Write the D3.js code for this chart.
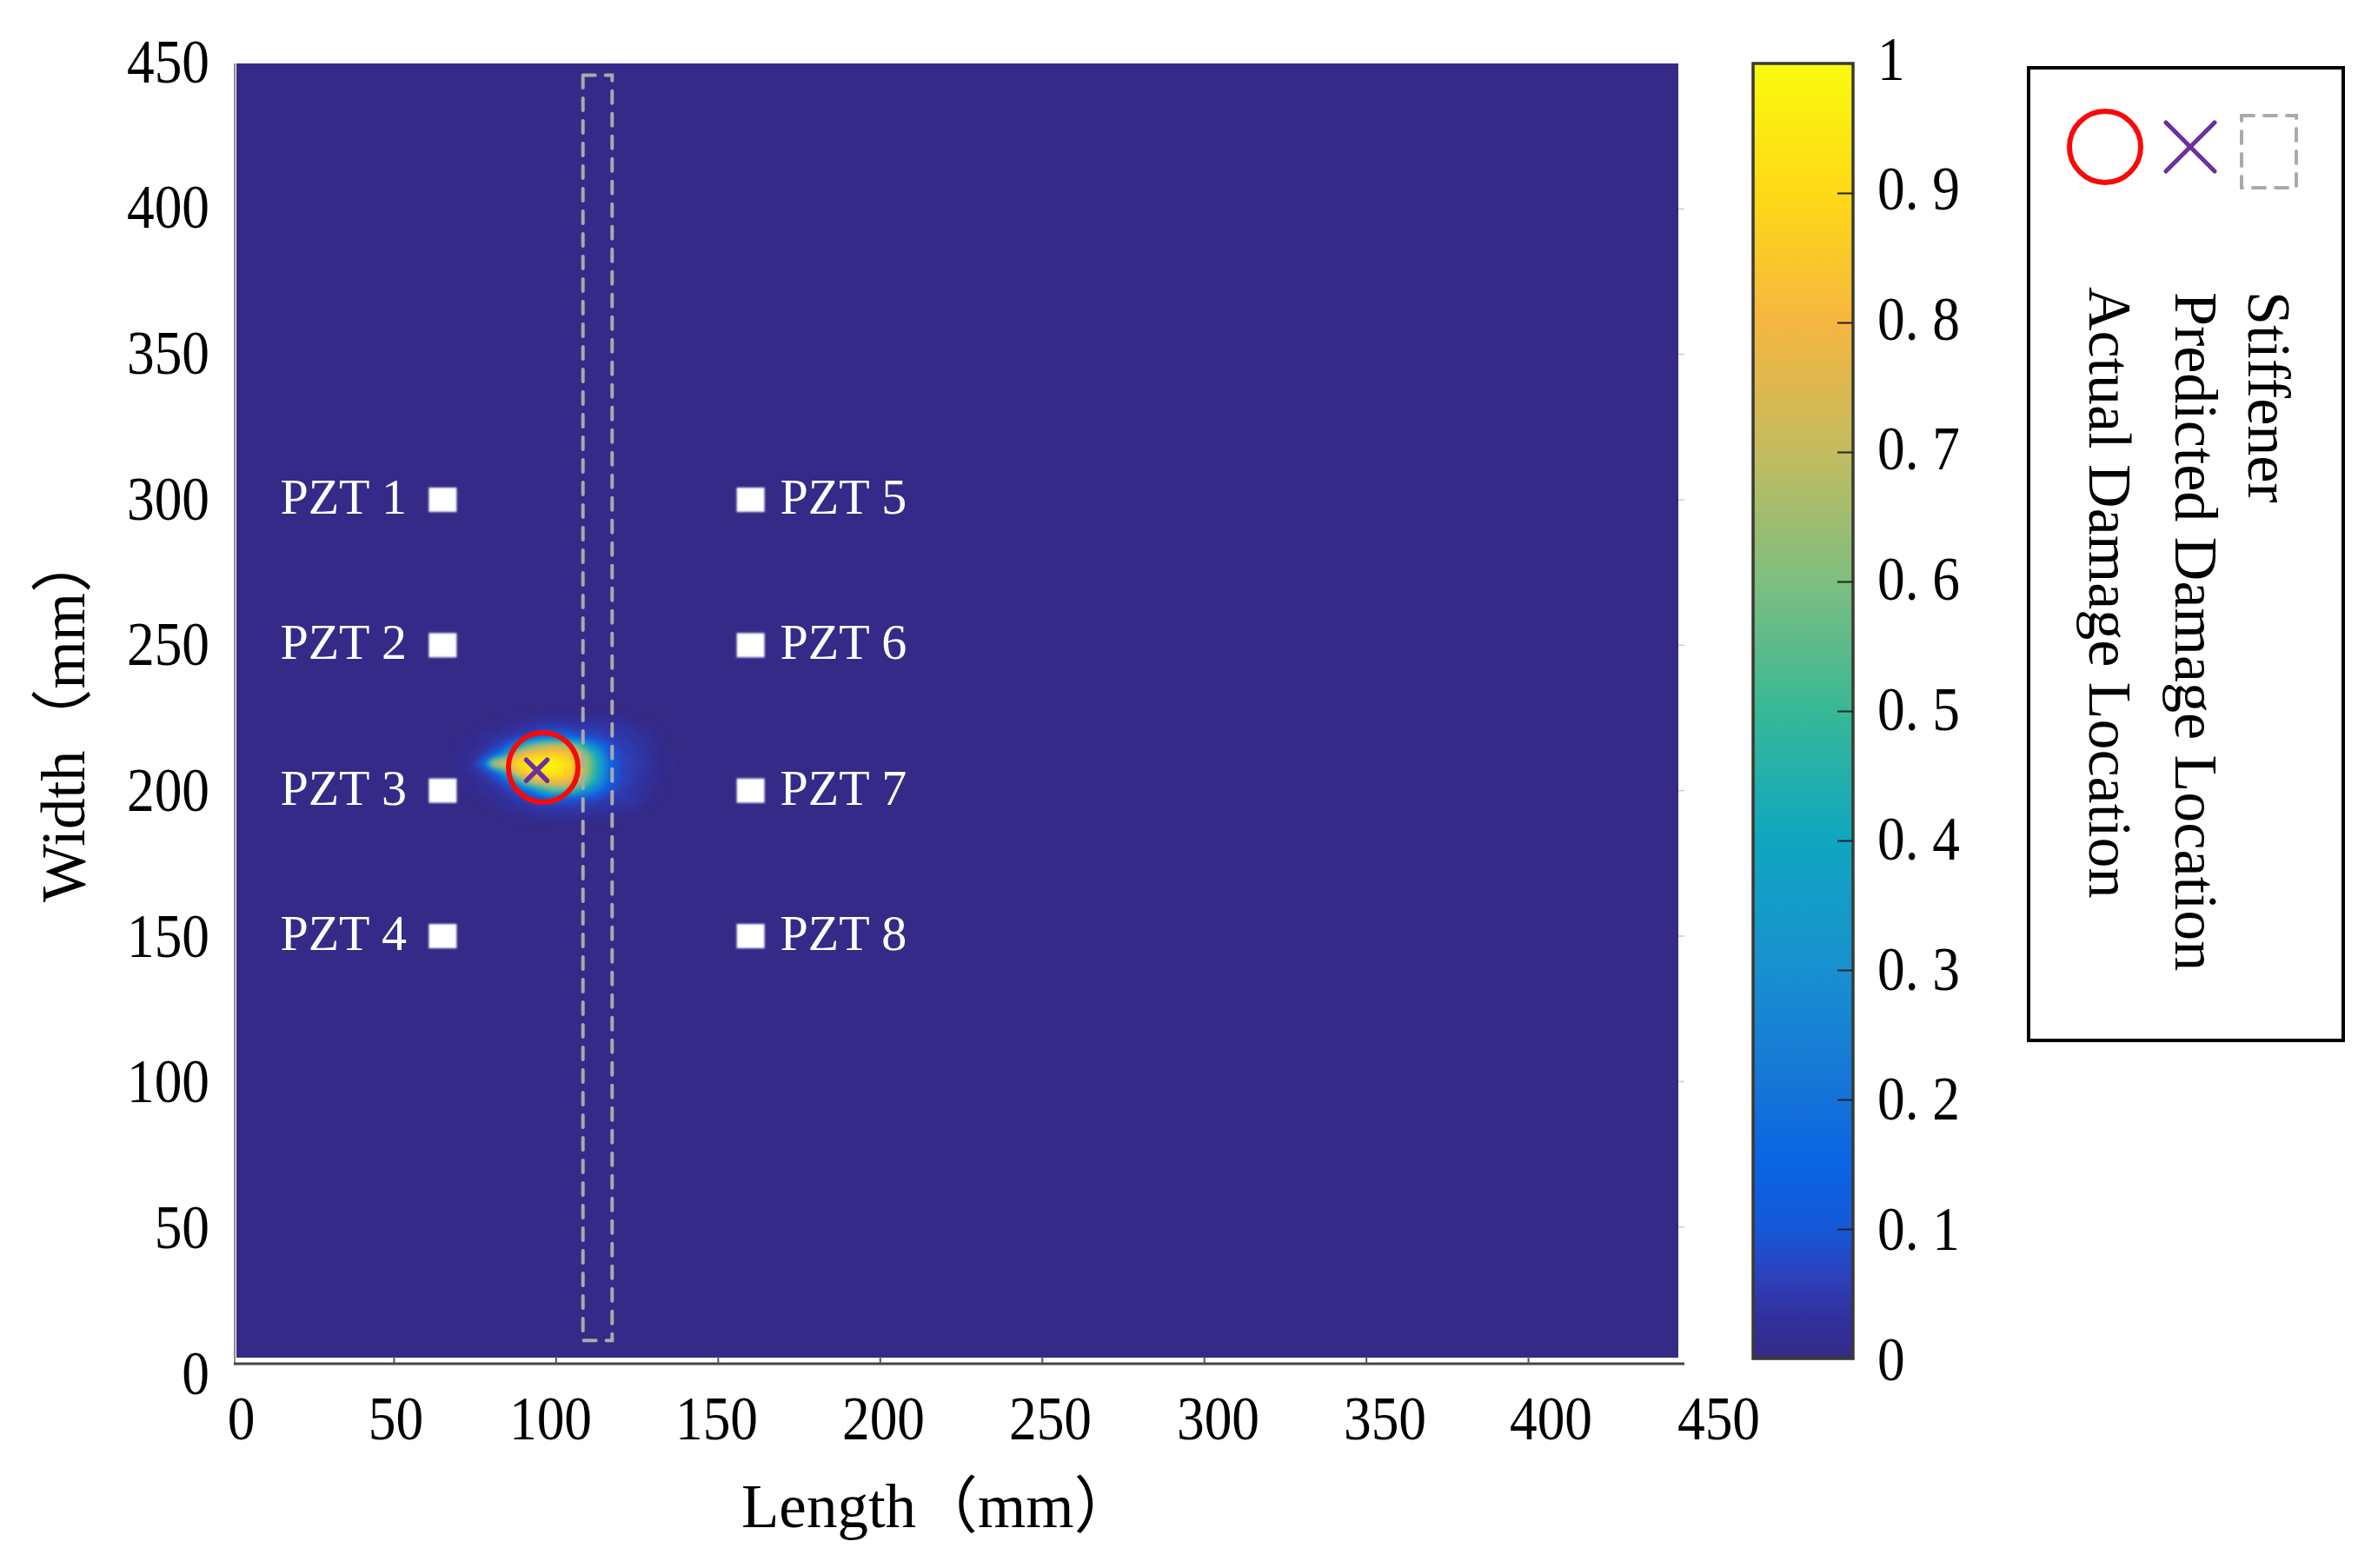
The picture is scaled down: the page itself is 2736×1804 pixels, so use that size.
<!DOCTYPE html>
<html><head><meta charset="utf-8">
<script src="https://cdnjs.cloudflare.com/ajax/libs/d3/7.8.5/d3.min.js"></script>
<style>
html,body{margin:0;padding:0;background:#fff}
svg{display:block}
text{font-family:"Liberation Serif","Noto Sans CJK SC",serif;fill:#000}
</style></head><body>
<svg id="c" width="2736" height="1804"></svg>
<script>
// ---- data ----
const axisTicks = [0,50,100,150,200,250,300,350,400,450];
const colorTicks = [0,0.1,0.2,0.3,0.4,0.5,0.6,0.7,0.8,0.9,1];
const colorTickLabels = ["0","0. 1","0. 2","0. 3","0. 4","0. 5","0. 6","0. 7","0. 8","0. 9","1"];
const colormapStops = [0,0.03,0.06,0.1,0.15,0.2,0.3,0.4,0.5,0.6,0.7,0.8,0.9,1];
const colormapColors = ["#352a87","#30309c","#2e3fb8","#1558d8","#0a64e4","#1572d8","#1890d0","#10a6c0","#38b896","#7ebe80","#c3bb5e","#f6b640","#fed916","#f9fb0e"];
const sensorNames = ["PZT 1","PZT 2","PZT 3","PZT 4","PZT 5","PZT 6","PZT 7","PZT 8"];
const sensorLength = [65,65,65,65,160,160,160,160];
const sensorWidth = [300,250,200,150,300,250,200,150];
const stiffenerLength = [108,117];
const stiffenerWidth = [11,446];
const actualDamage = [96,208];
const predictedDamage = [94,207];
const legendLabels = ["Actual Damage Location","Predicted Damage Location","Stiffener"];
const heatLengths = [70,73.6,77.2,80.7,84.3,87.9,91.5,95,98.6,102.2,105.8,109.3,112.9,116.5,120.1,123.6,127.2,130.8,134.4];
const heatWidths = [227.3,224.3,221.3,218.3,215.3,212.3,209.3,206.4,203.4,200.4,197.4,194.4,191.4,188.4];
const heatValues = [
[0,0,0,0,0,0,0,0,0,0,0,0,0,0,0,0,0,0,0],
[0,0,0,0,.01,.01,.02,.03,.03,.03,.03,.03,.03,.02,.02,.01,0,0,0],
[0,0,.01,.01,.02,.03,.04,.05,.06,.06,.05,.05,.05,.04,.04,.03,.02,.01,0],
[0,.01,.02,.03,.04,.06,.09,.18,.22,.18,.12,.09,.07,.06,.05,.04,.03,.01,0],
[.01,.01,.03,.05,.1,.3,.55,.66,.72,.7,.6,.4,.22,.1,.06,.05,.03,.02,0],
[.01,.02,.05,.12,.35,.75,.85,.87,.88,.87,.82,.62,.38,.14,.07,.05,.04,.02,.01],
[.01,.03,.12,.72,.8,.9,.97,1,1,.95,.86,.66,.42,.16,.07,.06,.04,.02,.01],
[.01,.02,.05,.12,.4,.8,.9,.95,.97,.92,.84,.64,.42,.16,.07,.05,.04,.02,.01],
[.01,.01,.03,.05,.12,.4,.68,.78,.82,.82,.76,.58,.36,.14,.07,.05,.03,.02,0],
[0,.01,.02,.03,.05,.1,.2,.4,.55,.55,.5,.35,.22,.1,.06,.04,.03,.01,0],
[0,0,.01,.02,.03,.05,.06,.09,.13,.12,.1,.08,.07,.05,.05,.04,.02,.01,0],
[0,0,0,.01,.02,.03,.04,.05,.05,.05,.05,.05,.04,.04,.03,.03,.01,0,0],
[0,0,0,0,.01,.01,.02,.02,.03,.03,.03,.02,.02,.02,.01,.01,0,0,0],
[0,0,0,0,0,0,0,0,0,0,0,0,0,0,0,0,0,0,0]
];
const contourLevels = [.005,.01,.015,.02,.025,.03,.035,.04,.045,.05,.06,.07,.08,.09,.1,.11,.12,.13,.14,.15,.16,.18,.2,.22,.24,.26,.28,.3,.32,.34,.36,.38,.4,.42,.44,.46,.48,.5,.52,.54,.56,.58,.6,.62,.64,.66,.68,.7,.72,.74,.76,.78,.8,.82,.84,.86,.88,.9,.92,.94,.96,.98];

// ---- layout ----
const BASE = "#352a87";
const svg = d3.select("#c");
const x = d3.scaleLinear().domain([0,450]).range([267,1945]);
const xLabelCenters = [277,455,633,824,1016,1208,1401,1593,1784,1977];
const xLabels = d3.scaleLinear().domain(axisTicks).range(xLabelCenters);
const y = d3.scaleLinear().domain([0,450]).range([1579,73]);
const yLabels = d3.scaleLinear().domain([0,450]).range([1579,70]);
const color = d3.scaleLinear().domain(colormapStops).range(colormapColors);
const cb = d3.scaleLinear().domain([0,1]).range([1563,73]);
const cbLabels = d3.scaleLinear().domain([0,1]).range([1563,67]);
const FS = 72, SX = .88;

const defs = svg.append("defs");
defs.append("filter").attr("id","b3").attr("x","-20%").attr("y","-20%").attr("width","140%").attr("height","140%")
  .append("feGaussianBlur").attr("stdDeviation",2.6);
defs.append("filter").attr("id","b1").attr("x","-20%").attr("y","-20%").attr("width","140%").attr("height","140%")
  .append("feGaussianBlur").attr("stdDeviation",1.1);
const grad = defs.append("linearGradient").attr("id","cbGrad").attr("x1",0).attr("x2",0).attr("y1",1).attr("y2",0);
grad.selectAll("stop").data(colormapStops).join("stop")
  .attr("offset",d=>d).attr("stop-color",d=>color(d));
defs.append("clipPath").attr("id","plotClip").append("rect").attr("x",272).attr("y",73).attr("width",1659).attr("height",1489);

// plot background
svg.append("rect").attr("x",272).attr("y",73).attr("width",1659).attr("height",1489).attr("fill",BASE);

// heat blob
const nx = heatLengths.length, ny = heatWidths.length;
const cols = d3.scaleLinear().domain([0.5,nx-.5]).range([x(heatLengths[0]),x(heatLengths[nx-1])]);
const rows = d3.scaleLinear().domain([0.5,ny-.5]).range([y(heatWidths[0]),y(heatWidths[ny-1])]);
const contours = d3.contours().size([nx,ny]).thresholds(contourLevels)(heatValues.flat());
const proj = d3.geoTransform({point(px,py){this.stream.point(cols(px),rows(py));}});
const blob = svg.append("g").attr("clip-path","url(#plotClip)").append("g").attr("filter","url(#b3)");
blob.selectAll("path").data(contours).join("path")
  .attr("d",d3.geoPath(proj)).attr("fill",d=>color(d.value)).attr("stroke",d=>color(d.value)).attr("stroke-width",.6);

// axis frame
const frame = svg.append("g");
frame.append("line").attr("x1",270).attr("x2",270).attr("y1",73).attr("y2",1569).attr("stroke","#8a8a8a").attr("stroke-width",2);
frame.append("line").attr("x1",269).attr("x2",1938).attr("y1",1569).attr("y2",1569).attr("stroke","#444").attr("stroke-width",3);
frame.selectAll(".bt").data(axisTicks.slice(1,9)).join("line").attr("class","bt")
  .attr("x1",d=>x(d)).attr("x2",d=>x(d)).attr("y1",1561).attr("y2",1569).attr("stroke","#555").attr("stroke-width",2);
frame.selectAll(".rt").data(axisTicks.slice(1,9)).join("line").attr("class","rt")
  .attr("x1",1931).attr("x2",1938).attr("y1",d=>y(d)).attr("y2",d=>y(d)).attr("stroke","#ccc").attr("stroke-width",1.5);

// tick labels through d3 axes
function styleAxis(g){
  g.select(".domain").remove();
  g.selectAll("line").remove();
  g.selectAll("text").attr("font-size",FS).attr("y",0).attr("x",0).attr("dy",24)
    .attr("transform",`scale(${SX},1)`).style("font-family",'"Liberation Serif",serif');
}
svg.append("g").attr("transform","translate(0,1632)")
  .call(d3.axisBottom(xLabels).tickValues(axisTicks).tickFormat(d3.format("d")).tickSize(0)).attr("font-family",null).attr("font-size",null)
  .call(styleAxis);
svg.append("g").attr("transform","translate(241,0)")
  .call(d3.axisLeft(yLabels).tickValues(axisTicks).tickFormat(d3.format("d")).tickSize(0)).attr("font-family",null).attr("font-size",null)
  .call(styleAxis);

// axis titles
svg.append("text").attr("x",853).attr("y",1757).attr("font-size",71).text("Length（mm）");
svg.append("text").attr("transform","translate(97,1038) rotate(-90)").attr("font-size",71).text("Width（mm）");

// colorbar
svg.append("rect").attr("x",2017).attr("y",73).attr("width",115).attr("height",1490)
  .attr("fill","url(#cbGrad)").attr("stroke","#3a3a30").attr("stroke-width",3.5);
svg.append("g").attr("transform","translate(2132,0)")
  .call(d3.axisLeft(cb).tickValues(colorTicks.slice(1,10)).tickSize(18).tickFormat(""))
  .call(g=>{g.select(".domain").remove();g.selectAll("line").attr("stroke","#222").attr("stroke-width",2);});
svg.append("g").attr("transform","translate(2160,0)")
  .call(d3.axisRight(cbLabels).tickValues(colorTicks).tickFormat((d,i)=>colorTickLabels[i]).tickSize(0)).attr("font-family",null).attr("font-size",null)
  .call(styleAxis);

// stiffener
svg.append("rect").attr("x",x(stiffenerLength[0])+1).attr("width",x(stiffenerLength[1])-x(stiffenerLength[0]))
  .attr("y",y(stiffenerWidth[1])).attr("height",y(stiffenerWidth[0])-y(stiffenerWidth[1]))
  .attr("fill","none").attr("stroke","#aaa").attr("stroke-width",4).attr("stroke-dasharray","14 12").attr("stroke-linecap","round");

// sensors
const sensors = sensorNames.map((n,i)=>({n,x:sensorLength[i],y:sensorWidth[i],left:i<4}));
svg.append("g").attr("filter","url(#b1)").selectAll("rect").data(sensors).join("rect")
  .attr("x",d=>x(d.x)-16).attr("y",d=>y(d.y)-14).attr("width",32).attr("height",28).attr("fill","#fff");
svg.selectAll(".pzt").data(sensors).join("text").attr("class","pzt")
  .attr("x",d=>d.left?x(d.x)-187:x(d.x)+34).attr("y",d=>y(d.y)+16)
  .attr("font-size",58).style("fill","#fff").text(d=>d.n);

// markers
const circleMark = (g,cx,cy,r,w)=>g.append("circle").attr("cx",cx).attr("cy",cy).attr("r",r)
  .attr("fill","none").attr("stroke","#f70a0a").attr("stroke-width",w);
const crossMark = (g,cx,cy,h,w)=>g.append("path").attr("d",`M${cx-h},${cy-h}L${cx+h},${cy+h}M${cx-h},${cy+h}L${cx+h},${cy-h}`)
  .attr("fill","none").attr("stroke","#6a2fa0").attr("stroke-width",w).attr("stroke-linecap","round");
circleMark(svg,x(actualDamage[0]),y(actualDamage[1]),40,6);
crossMark(svg,x(predictedDamage[0]),y(predictedDamage[1]),12,5.5);

// legend
const lg = svg.append("g");
lg.append("rect").attr("x",2334).attr("y",78).attr("width",362).attr("height",1119).attr("fill","#fff").attr("stroke","#000").attr("stroke-width",4);
circleMark(lg,2422,169,41,6);
crossMark(lg,2520,169,28,5);
lg.append("rect").attr("x",2579).attr("y",133).attr("width",63).attr("height",83)
  .attr("fill","none").attr("stroke","#aaa").attr("stroke-width",4).attr("stroke-dasharray","14 12").attr("stroke-linecap","round");
const legendPos = [[2404,330],[2503,336],[2587,335]];
lg.selectAll(".lt").data(legendLabels).join("text").attr("class","lt")
  .attr("transform",(d,i)=>`translate(${legendPos[i][0]},${legendPos[i][1]}) rotate(90)`)
  .attr("font-size",70).text(d=>d);
</script>
</body></html>
